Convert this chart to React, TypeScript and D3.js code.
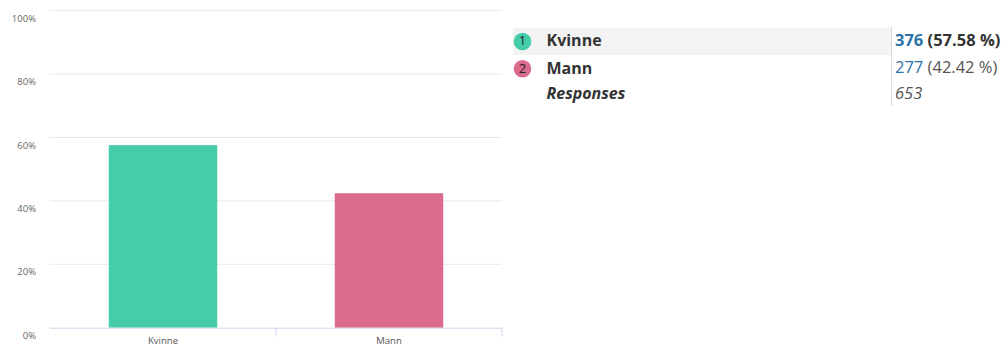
import React from "react";
import * as d3 from "d3";

const categories = ["Kvinne", "Mann"];
const counts = [376, 277];
const colors = ["#45cda9", "#db6b8c"];
const yTicks = [0, 20, 40, 60, 80, 100];
const totalLabel = "Responses";

const W = 1008;
const H = 347;

export default function App() {
  const total = d3.sum(counts);
  const pct = counts.map((c) => (c / total) * 100);

  const x = d3.scaleBand<string>().domain(categories).range([50, 502]).paddingInner(0).paddingOuter(0);
  const y = d3.scaleLinear().domain([0, 100]).range([327.7, 10.7]);
  const barW = x.bandwidth() * 0.48;

  const rowY = [41.5, 68.8, 94.3];
  const font = "'Open Sans', 'Noto Sans', sans-serif";

  return (
    <svg width={W} height={H} style={{ position: "absolute", left: 0, top: 0, background: "#fff" }} fontFamily={font}>
      {/* gridlines */}
      {yTicks.filter((t) => t > 0).map((t) => (
        <line key={t} x1={49.5} x2={502} y1={y(t)} y2={y(t)} stroke="#e8e8ee" strokeWidth={1} />
      ))}
      {/* y labels */}
      {yTicks.map((t) => (
        <text key={"l" + t} x={36} y={y(t) + 8.5} textAnchor="end" dominantBaseline="middle" fontSize={9.5} fill="#666">
          {t}%
        </text>
      ))}
      {/* bars */}
      {categories.map((c, i) => (
        <rect
          key={c}
          x={(x(c) as number) + x.bandwidth() / 2 - barW / 2}
          y={y(pct[i])}
          width={barW}
          height={y(0) - y(pct[i])}
          fill={colors[i]}
        />
      ))}
      {/* x axis */}
      <line x1={49.5} x2={502} y1={y(0) + 0.5} y2={y(0) + 0.5} stroke="#ccd6eb" strokeWidth={1} />
      {categories.map((c) => (
        <line
          key={"t" + c}
          x1={(x(c) as number) + x.bandwidth()}
          x2={(x(c) as number) + x.bandwidth()}
          y1={y(0)}
          y2={y(0) + 9}
          stroke="#ccd6eb"
        />
      ))}
      {categories.map((c) => (
        <text
          key={"x" + c}
          x={(x(c) as number) + x.bandwidth() / 2}
          y={341}
          textAnchor="middle"
          dominantBaseline="middle"
          fontSize={9.5}
          fill="#555"
        >
          {c}
        </text>
      ))}

      {/* legend table */}
      <rect x={513} y={27.5} width={378} height={27.5} fill="#f3f3f3" />
      <line x1={891.5} x2={891.5} y1={27} y2={106} stroke="#dcdcdc" strokeWidth={1} />
      {categories.map((c, i) => (
        <g key={"lg" + c}>
          <circle cx={522.5} cy={rowY[i]} r={8.8} fill={colors[i]} />
          <text x={522.5} y={rowY[i] + 0.5} textAnchor="middle" dominantBaseline="middle" fontSize={13} fill="#222">
            {i + 1}
          </text>
          <text x={546.5} y={rowY[i] + 0.5} dominantBaseline="middle" fontSize={16} fontWeight={700} fill="#333">
            {c}
          </text>
          <text x={895} y={rowY[i] + 0.5} dominantBaseline="middle" fontSize={16.5} fontWeight={i === 0 ? 700 : 400}>
            <tspan fill="#2a72a6">{counts[i]}</tspan>
            <tspan fill={i === 0 ? "#333" : "#555"}>{` (${pct[i].toFixed(2)} %)`}</tspan>
          </text>
        </g>
      ))}
      <text x={546.5} y={rowY[2] + 0.5} dominantBaseline="middle" fontSize={16} fontWeight={700} fontStyle="italic" fill="#333">
        {totalLabel}
      </text>
      <text x={895} y={rowY[2] + 0.5} dominantBaseline="middle" fontSize={16.5} fontStyle="italic" fill="#555">
        {total}
      </text>
    </svg>
  );
}
